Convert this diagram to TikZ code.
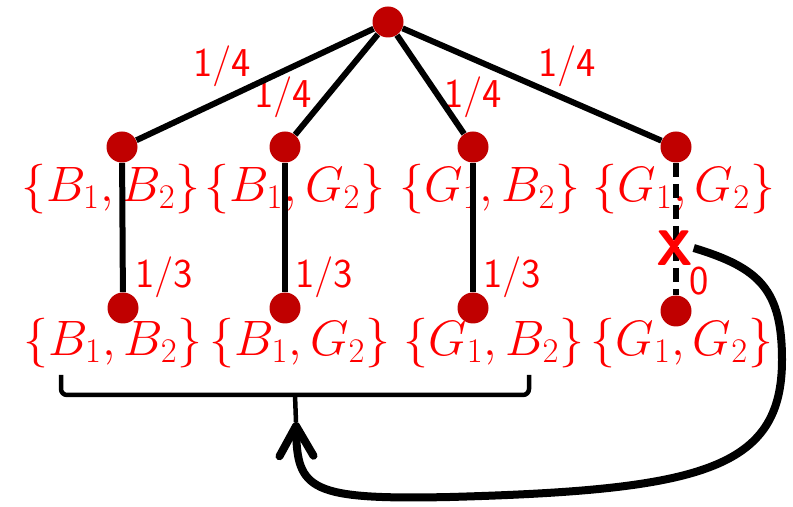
\documentclass[tikz,border=0pt]{standalone}
\usetikzlibrary{arrows.meta}
\definecolor{dotred}{RGB}{192,0,0}
\definecolor{txtred}{RGB}{255,0,0}
\tikzset{
  dot/.style={circle,fill=dotred,inner sep=0pt,minimum size=15.5pt},
  setlabel/.style={text=txtred,inner sep=0pt,font=\fontsize{23.5}{26}\selectfont},
  weight/.style={text=txtred,inner sep=0pt,font=\sffamily\fontsize{20.5}{23}\selectfont},
  branch/.style={line width=3pt},
  cutbranch/.style={line width=3pt,dash pattern=on 7pt off 3.5pt},
  xmark/.style={text=txtred,inner sep=0pt,font=\sffamily\bfseries\fontsize{25}{28}\selectfont},
  bracket/.style={line width=2.25pt,rounded corners=3pt},
  feedback/.style={line width=4pt,-{Straight Barb[length=15pt,width=17pt,round]}}
}
\begin{document}
\begin{tikzpicture}[x=0.5pt,y=-0.5pt]
    \useasboundingbox (0,0) rectangle (793,507);
    % tree
    \node[dot] (root) at (388,22) {};
    \node[dot] (a1) at (122,147) {};
    \node[dot] (a2) at (285,147) {};
    \node[dot] (a3) at (473,147) {};
    \node[dot] (a4) at (676,147) {};
    \node[dot] (b1) at (123,308) {};
    \node[dot] (b2) at (285,308) {};
    \node[dot] (b3) at (473,308) {};
    \node[dot] (b4) at (676,311) {};
    % outcomes
    \node[setlabel] (la1) at (111,189) {$\{B_1,B_2\}$};
    \node[setlabel] (la2) at (295,189) {$\{B_1,G_2\}$};
    \node[setlabel] (la3) at (490,189) {$\{G_1,B_2\}$};
    \node[setlabel] (la4) at (684,189) {$\{G_1,G_2\}$};
    \node[setlabel] (lb1) at (113,343) {$\{B_1,B_2\}$};
    \node[setlabel] (lb2) at (300,343) {$\{B_1,G_2\}$};
    \node[setlabel] (lb3) at (494,343) {$\{G_1,B_2\}$};
    \node[setlabel] (lb4) at (682,343) {$\{G_1,G_2\}$};
    % weights
    \node[weight] (w1) at (222,66) {1/4};
    \node[weight] (w2) at (283,97) {1/4};
    \node[weight] (w3) at (473,97) {1/4};
    \node[weight] (w4) at (567,66) {1/4};
    \node[weight] (v1) at (164,277) {1/3};
    \node[weight] (v2) at (324,277) {1/3};
    \node[weight] (v3) at (512,277) {1/3};
    \node[weight] (v4) at (699,281) {0};
    % branches
    \draw[branch] (root) -- (a1);
    \draw[branch] (root) -- (a2);
    \draw[branch] (root) -- (a3);
    \draw[branch] (root) -- (a4);
    \draw[branch] (a1) -- (b1);
    \draw[branch] (a2) -- (b2);
    \draw[branch] (a3) -- (b3);
    \draw[cutbranch] (a4) -- (b4);
    \node[xmark] (cut) at (675,248) {X};
    % grouping bracket and loop back
    \coordinate (brL) at (61,375);
    \coordinate (brR) at (529,375);
    \coordinate (brM) at (295,395);
    \coordinate (brT) at (296,422);
    \draw[bracket] (brL) |- (brM) -| (brR);
    \draw[bracket] (brM) -- (brT);
    \draw[feedback] (cut.east) .. controls (760,268) and (782,290) .. (782,360)
        .. controls (782,470) and (700,490) .. (450,497)
        .. controls (310,500) and (297,490) .. (brT);
\end{tikzpicture}
\end{document}
